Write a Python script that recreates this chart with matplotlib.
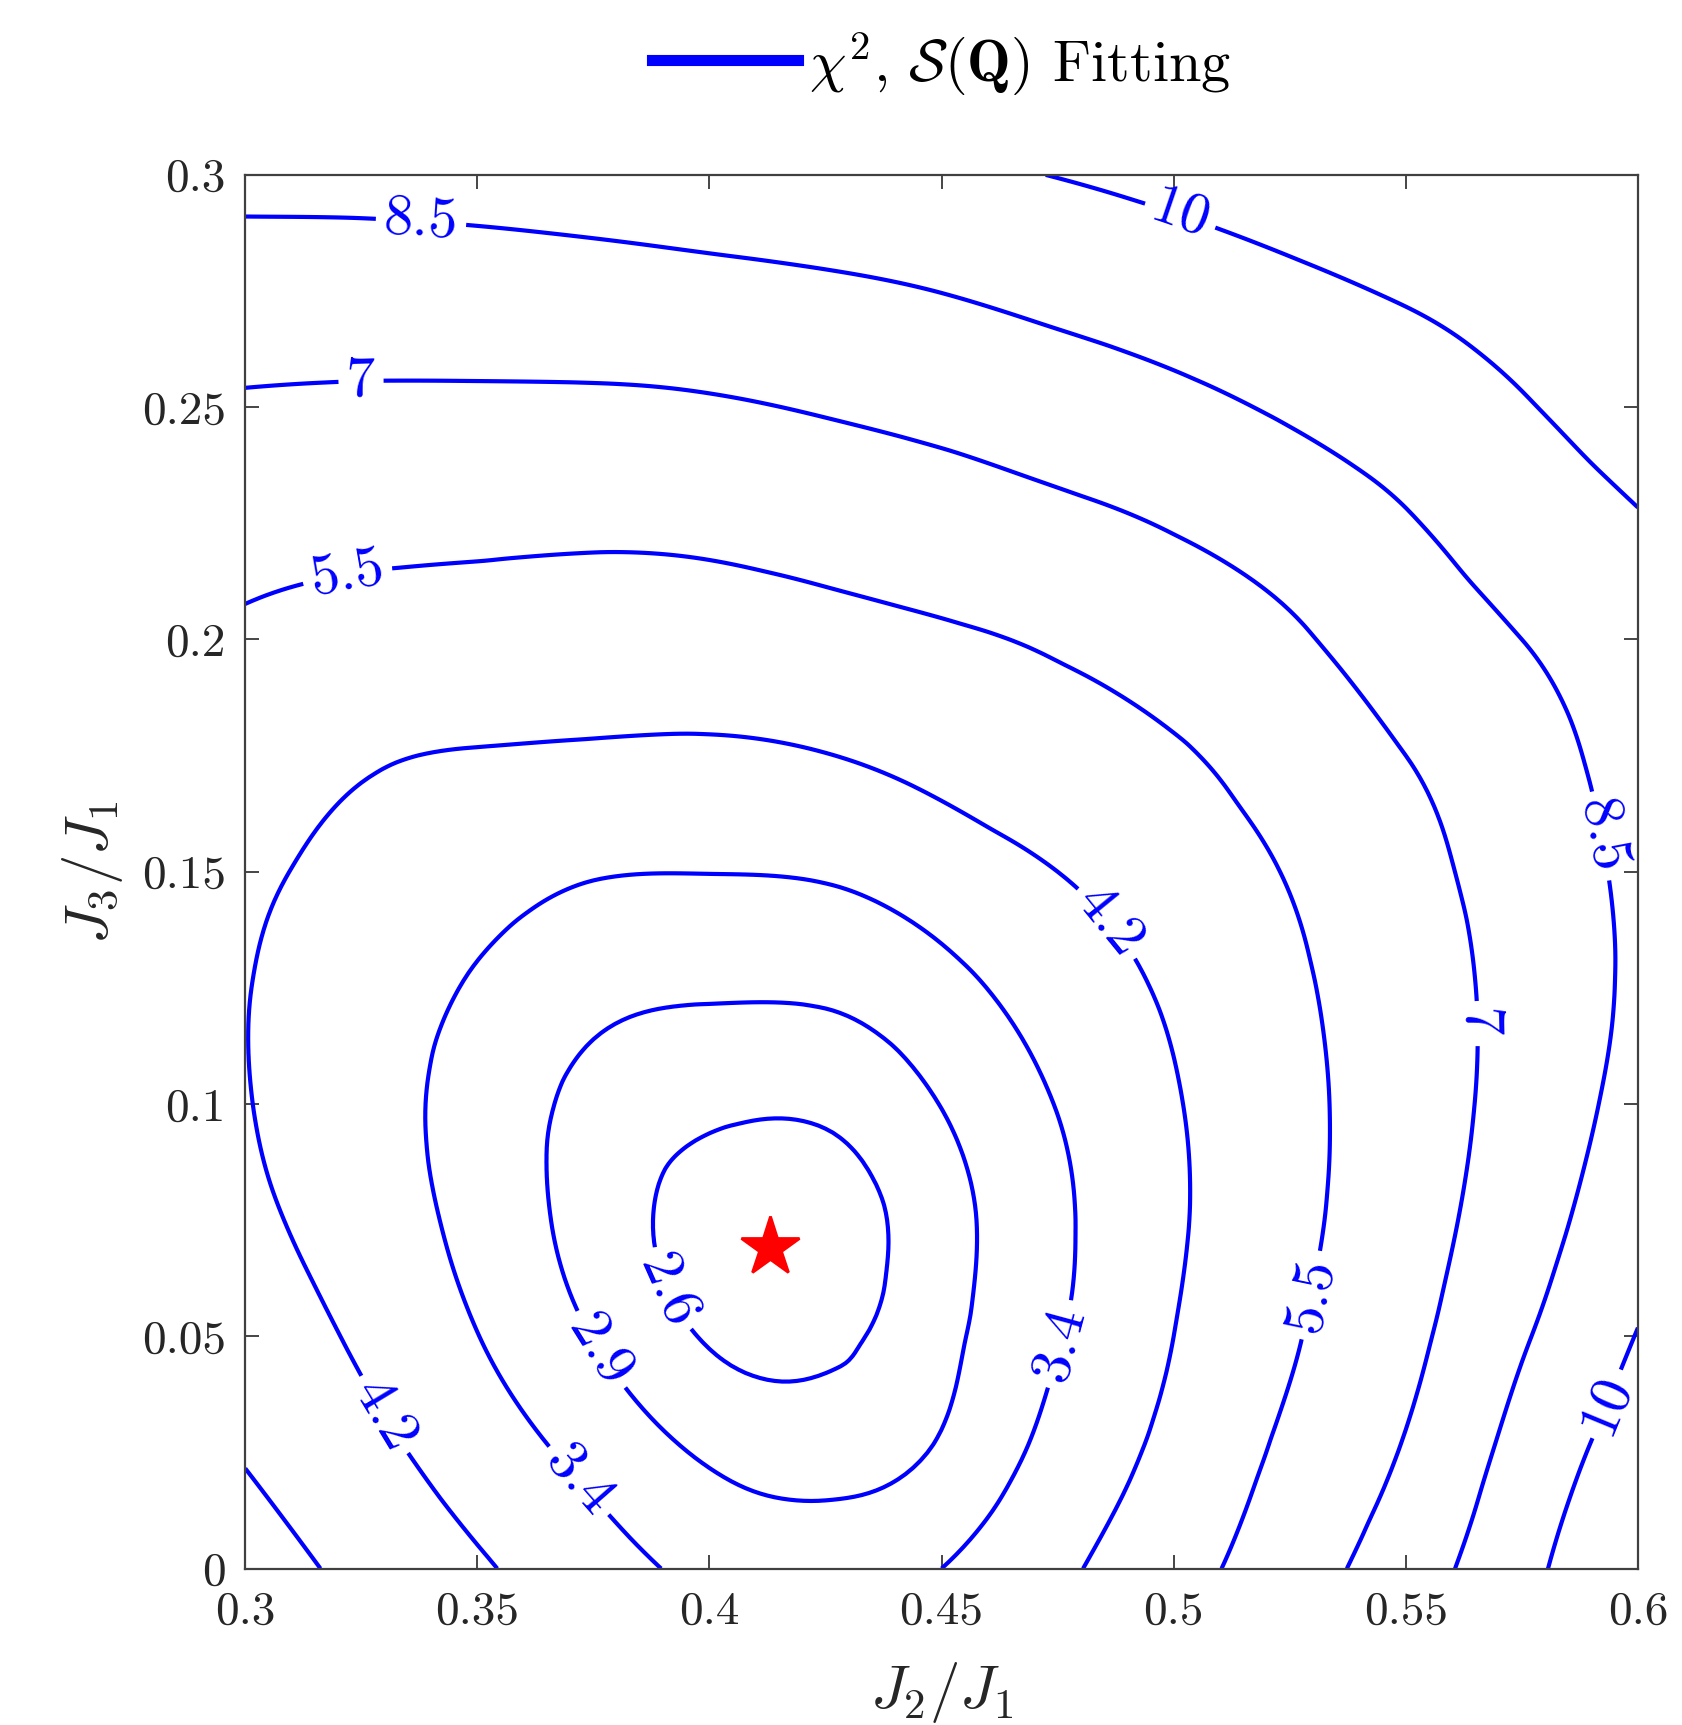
import numpy as np
import matplotlib
matplotlib.use("Agg")
import matplotlib.pyplot as plt
import matplotlib.tri as mtri
from matplotlib.lines import Line2D

# grid of the fit surface
j2 = [0.300, 0.325, 0.350, 0.375, 0.400, 0.425, 0.450, 0.475, 0.500, 0.525, 0.550, 0.575, 0.600]
j3 = [0.000, 0.025, 0.050, 0.075, 0.100, 0.125, 0.150, 0.175, 0.200, 0.225, 0.250, 0.275, 0.300]

# chi^2 values, one row per J3/J1 value (bottom to top), columns follow j2
chi2 = [
    [6.20, 5.15, 4.32, 3.68, 3.25, 3.12, 3.40, 4.03, 4.98, 6.30, 7.78, 9.57, 11.40],
    [5.40, 4.52, 3.78, 3.23, 2.85, 2.76, 2.95, 3.61, 4.49, 5.76, 7.11, 9.00, 10.70],
    [4.81, 4.07, 3.41, 2.89, 2.58, 2.55, 2.80, 3.37, 4.20, 5.37, 6.65, 8.35, 10.05],
    [4.41, 3.79, 3.22, 2.75, 2.52, 2.51, 2.76, 3.30, 4.07, 5.15, 6.37, 7.84, 9.43],
    [4.24, 3.67, 3.19, 2.79, 2.65, 2.645, 2.91, 3.42, 4.13, 5.12, 6.26, 7.55, 9.00],
    [4.23, 3.73, 3.34, 3.02, 2.95, 2.97, 3.23, 3.71, 4.35, 5.26, 6.33, 7.47, 8.77],
    [4.39, 3.94, 3.66, 3.44, 3.41, 3.46, 3.76, 4.20, 4.76, 5.58, 6.58, 7.60, 8.85],
    [4.76, 4.31, 4.15, 4.09, 4.06, 4.18, 4.50, 4.89, 5.35, 6.15, 7.00, 7.94, 9.05],
    [5.28, 5.00, 4.94, 4.86, 4.88, 5.07, 5.33, 5.66, 6.18, 6.81, 7.70, 8.50, 9.33],
    [6.05, 5.87, 5.78, 5.73, 5.80, 6.04, 6.32, 6.67, 7.09, 7.67, 8.40, 9.18, 9.90],
    [6.85, 6.78, 6.76, 6.76, 6.86, 7.10, 7.38, 7.74, 8.15, 8.67, 9.24, 9.90, 10.68],
    [7.84, 7.82, 7.86, 7.95, 8.09, 8.27, 8.52, 8.88, 9.25, 9.69, 10.12, 10.65, 11.50],
    [8.86, 8.90, 9.00, 9.15, 9.34, 9.52, 9.76, 10.03, 10.37, 10.75, 11.06, 11.48, 12.30],
]

levels = [2.6, 2.9, 3.4, 4.2, 5.5, 7, 8.5, 10]

# best fit point (red star)
best_j2 = [0.4131]
best_j3 = [0.0692]

xtick_vals = [0.3, 0.35, 0.4, 0.45, 0.5, 0.55, 0.6]
xtick_labels = ["0.3", "0.35", "0.4", "0.45", "0.5", "0.55", "0.6"]
ytick_vals = [0, 0.05, 0.1, 0.15, 0.2, 0.25, 0.3]
ytick_labels = ["0", "0.05", "0.1", "0.15", "0.2", "0.25", "0.3"]

plt.rcParams['mathtext.fontset'] = 'cm'
plt.rcParams['font.family'] = 'serif'
plt.rcParams['font.serif'] = ['cmr10', 'DejaVu Serif']
plt.rcParams['axes.unicode_minus'] = False

fig = plt.figure(figsize=(8.41, 8.625), dpi=200)
ax = fig.add_axes([0.1458, 0.0907, 0.828, 0.8079])

X, Y = np.meshgrid(j2, j3)
Z = np.array(chi2)
tri = mtri.Triangulation(X.ravel(), Y.ravel())
interp = mtri.CubicTriInterpolator(tri, Z.ravel(), kind='min_E')
refiner = mtri.UniformTriRefiner(tri)
tri_f, z_f = refiner.refine_field(Z.ravel(), triinterpolator=interp, subdiv=4)

cs = ax.tricontour(tri_f, z_f, levels=levels, colors='blue', linewidths=1.5)

# where MATLAB put the inline labels
label_pos = [(0.3379, 0.2905), (0.3249, 0.2571), (0.3218, 0.2152), (0.5019, 0.2927),
             (0.5915, 0.1576), (0.5647, 0.1173), (0.528, 0.0592), (0.4853, 0.1386),
             (0.4746, 0.0486), (0.5931, 0.0355), (0.3301, 0.0332), (0.3692, 0.0166),
             (0.3751, 0.0462), (0.3922, 0.0604)]
ax.clabel(cs, inline=True, fmt='%g', fontsize=21, colors='blue', manual=label_pos,
          inline_spacing=8)

ax.plot(best_j2, best_j3, marker='*', color='red', ms=22, mec='red', ls='none')

ax.set_xlim(0.3, 0.6)
ax.set_ylim(0, 0.3)
ax.set_xticks(xtick_vals, xtick_labels)
ax.set_yticks(ytick_vals, ytick_labels)
ax.tick_params(direction='in', top=True, right=True, length=5, width=0.6,
               color='#262626', labelcolor='#262626', labelsize=17)
ax.tick_params(axis='x', pad=8)
ax.tick_params(axis='y', pad=7)
for s in ax.spines.values():
    s.set_color('#404040')
    s.set_linewidth(0.8)

ax.set_xlabel(r'$J_2/J_1$', fontsize=22, color='#262626', labelpad=10)
ax.set_ylabel(r'$J_3/J_1$', fontsize=22, color='#262626', labelpad=6)

h = [Line2D([], [], color='blue', lw=4)]
ax.legend(h, [r'$\chi^2$, $\mathcal{S}(\mathbf{Q})$ Fitting'], loc='center',
          bbox_to_anchor=(0.5, 1.08), frameon=False, fontsize=21,
          handlelength=2.5, handletextpad=0.2)

fig.savefig('out.png', dpi=200)
